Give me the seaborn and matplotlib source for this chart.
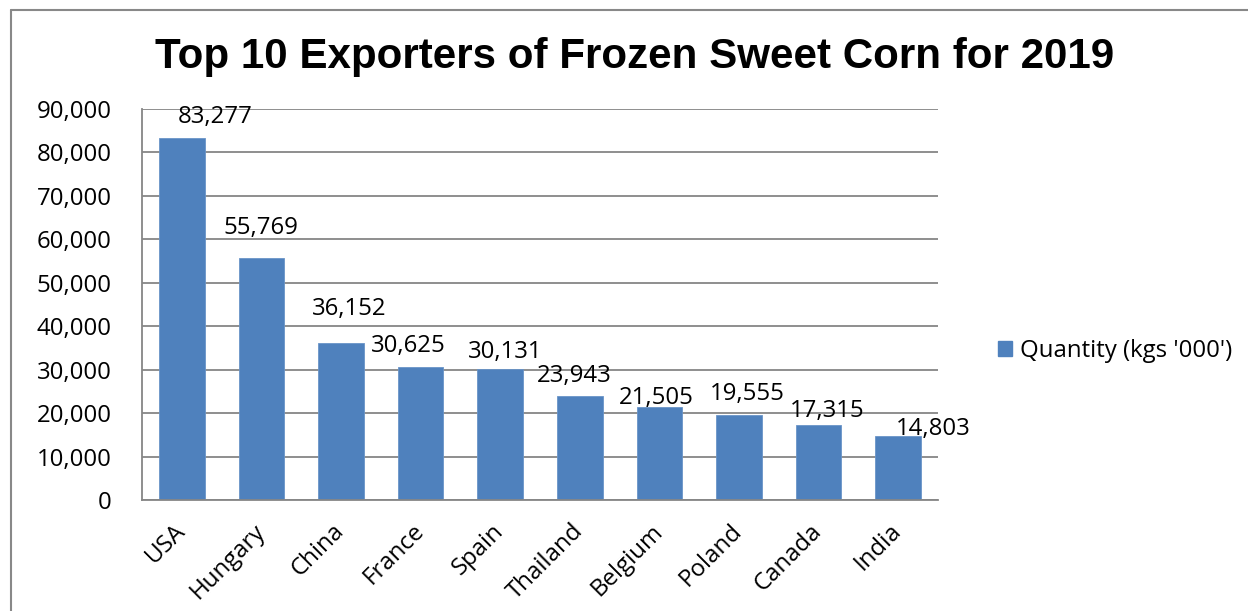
import matplotlib
matplotlib.use("Agg")
import matplotlib.pyplot as plt
import seaborn as sns
import pandas as pd
from matplotlib.patches import Patch
from matplotlib.lines import Line2D
from matplotlib.ticker import FuncFormatter, MultipleLocator

# ---- data ----
countries = ["USA", "Hungary", "China", "France", "Spain",
             "Thailand", "Belgium", "Poland", "Canada", "India"]
quantity = [83277, 55769, 36152, 30625, 30131, 23943, 21505, 19555, 17315, 14803]
series_name = "Quantity (kgs '000')"
title = "Top 10 Exporters of Frozen Sweet Corn for 2019"

# label offsets (pixels) relative to bar top centre, as placed in the original
label_dx_px = [33.5, -1, 8.5, -12, 5, -6, -3, 8, 8.5, 35.5]
label_dy_px = [21, 29.5, 34, 21, 17, 19.5, 9, 21, 14, 6.5]

sns.set_style("white")
plt.rcParams["font.family"] = ["Open Sans", "DejaVu Sans"]
plt.rcParams["text.color"] = "black"

DPI = 100
fig = plt.figure(figsize=(12.48, 6.11), dpi=DPI)
W, H = 1248, 611
ax = fig.add_axes([142 / W, 1 - 500 / H, (938 - 142) / W, (500 - 109) / H])

df = pd.DataFrame({"country": countries, "qty": quantity})
bar_color = "#4F81BD"
sns.barplot(data=df, x="country", y="qty", color=bar_color, saturation=1,
            width=0.572, ax=ax, edgecolor="#6A94C8", linewidth=0.6)

ax.set_ylim(0, 90000)
ax.set_xlim(-0.5, len(countries) - 0.5)
ax.yaxis.set_major_locator(MultipleLocator(10000))
ax.yaxis.set_major_formatter(FuncFormatter(lambda v, p: f"{int(v):,}"))
ax.grid(axis="y", color="#868686", linewidth=1.3)
ax.set_axisbelow(True)
for s in ["top", "right"]:
    ax.spines[s].set_visible(False)
for s in ["left", "bottom"]:
    ax.spines[s].set_color("#868686")
    ax.spines[s].set_linewidth(1.3)
ax.set_xlabel("")
ax.set_ylabel("")

fs = 17.3
ax.tick_params(axis="y", length=0, pad=22, labelsize=fs, labelcolor="black")
ax.tick_params(axis="x", length=0, pad=20, labelsize=fs, labelcolor="black")
for lab in ax.get_xticklabels():
    lab.set_rotation(45)
    lab.set_ha("right")
    lab.set_va("center")
    lab.set_rotation_mode("anchor")

px2pt = 72 / DPI
for i, v in enumerate(quantity):
    ax.annotate(f"{v:,}", xy=(i, v),
                xytext=(label_dx_px[i] * px2pt, label_dy_px[i] * px2pt),
                textcoords="offset points", ha="center", va="center",
                fontsize=fs, color="black", annotation_clip=False)

fig.text(635 / W, 1 - 57 / H, title, ha="center", va="center",
         fontsize=30.3, fontweight="bold", family="Liberation Sans", color="black")

fig.legend(handles=[Patch(facecolor=bar_color, edgecolor=bar_color, label=series_name)],
           loc="center left", bbox_to_anchor=(998 / W, 1 - 351 / H),
           frameon=False, fontsize=fs, handlelength=0.6, handleheight=0.6,
           handletextpad=0.3, borderpad=0, borderaxespad=0, labelcolor="black")

# chart frame (left and top edges visible)
fig.add_artist(Line2D([11 / W, 11 / W], [0, 1 - 10 / H], transform=fig.transFigure,
                      color="#888888", linewidth=1.5))
fig.add_artist(Line2D([11 / W, 1], [1 - 10 / H, 1 - 10 / H], transform=fig.transFigure,
                      color="#888888", linewidth=1.5))

fig.savefig("out.png", dpi=DPI)
